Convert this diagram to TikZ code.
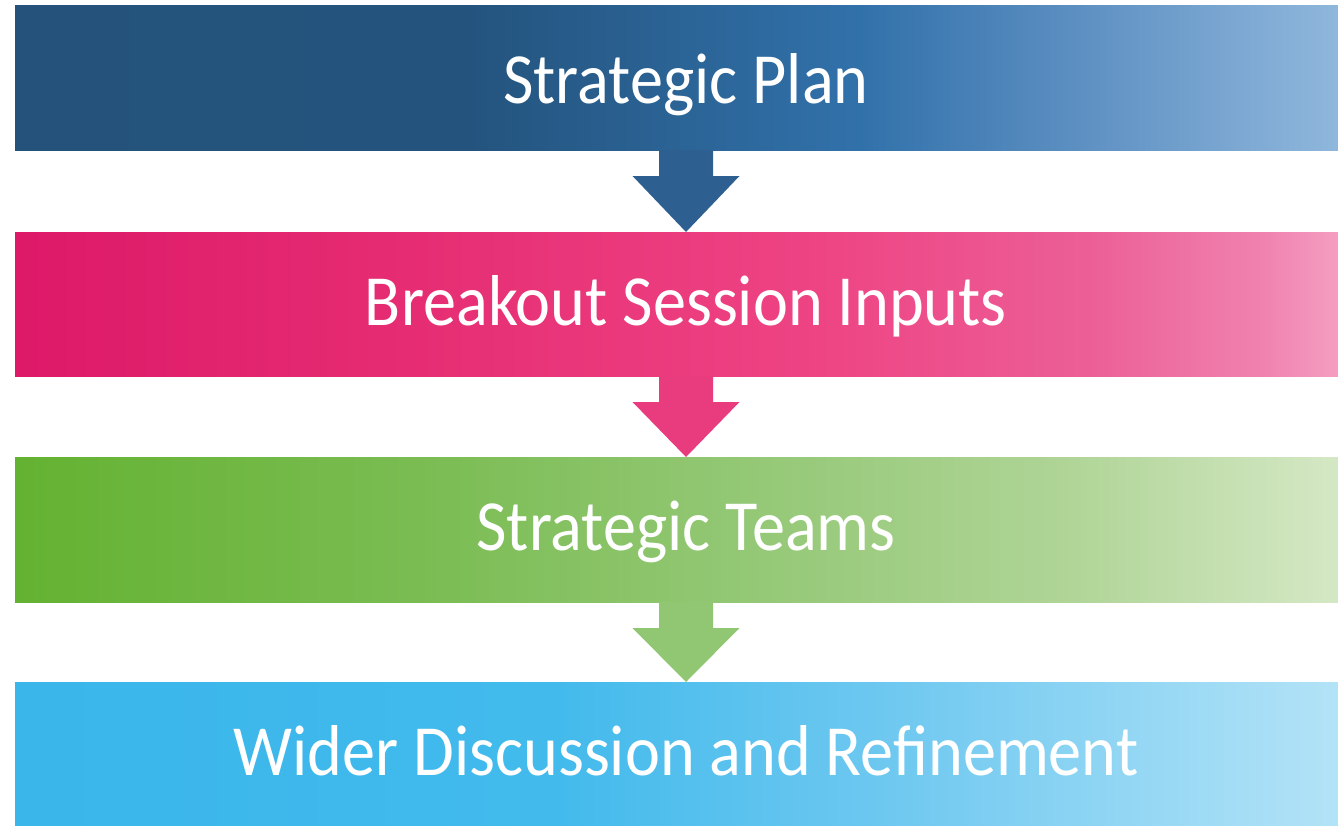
\documentclass[tikz,border=0pt]{standalone}
\usepackage{fontspec}
\setmainfont{Carlito}
\usetikzlibrary{calc}
\definecolor{aA}{RGB}{36,82,122}
\definecolor{aB}{RGB}{36,84,126}
\definecolor{aC}{RGB}{49,113,170}
\definecolor{aD}{RGB}{95,145,195}
\definecolor{aE}{RGB}{147,186,222}
\definecolor{bA}{RGB}{221,25,104}
\definecolor{bB}{RGB}{230,45,115}
\definecolor{bC}{RGB}{238,68,132}
\definecolor{bD}{RGB}{236,95,150}
\definecolor{bE}{RGB}{240,130,175}
\definecolor{bF}{RGB}{245,165,198}
\definecolor{cA}{RGB}{100,178,50}
\definecolor{cB}{RGB}{122,188,82}
\definecolor{cC}{RGB}{148,200,118}
\definecolor{cD}{RGB}{175,212,150}
\definecolor{cE}{RGB}{215,233,200}
\definecolor{dA}{RGB}{58,182,235}
\definecolor{dB}{RGB}{66,186,236}
\definecolor{dC}{RGB}{110,200,240}
\definecolor{dD}{RGB}{182,228,247}
\definecolor{arrA}{RGB}{46,95,145}
\definecolor{arrB}{RGB}{233,60,127}
\definecolor{arrC}{RGB}{145,198,115}
\pgfdeclarehorizontalshading{shA}{100bp}{color(0bp)=(aA); color(25bp)=(aA); color(42bp)=(aB); color(56.5bp)=(aC); color(65bp)=(aD); color(75bp)=(aE); color(100bp)=(aE)}
\pgfdeclarehorizontalshading{shB}{100bp}{color(0bp)=(bA); color(25bp)=(bA); color(40bp)=(bB); color(55bp)=(bC); color(65bp)=(bD); color(71.5bp)=(bE); color(75bp)=(bF); color(100bp)=(bF)}
\pgfdeclarehorizontalshading{shC}{100bp}{color(0bp)=(cA); color(25bp)=(cA); color(40bp)=(cB); color(52.5bp)=(cC); color(64bp)=(cD); color(75bp)=(cE); color(100bp)=(cE)}
\pgfdeclarehorizontalshading{shD}{100bp}{color(0bp)=(dA); color(25bp)=(dA); color(45bp)=(dB); color(57.5bp)=(dC); color(75bp)=(dD); color(100bp)=(dD)}
\newcommand{\bandtext}[1]{\scalebox{0.92}[1]{#1}}
\begin{document}
\begin{tikzpicture}[x=1pt,y=-1pt,
  band/.style={rectangle,inner sep=0pt,outer sep=0pt,minimum width=1342pt,minimum height=145pt},
  label/.style={text=white,font=\fontsize{72}{80}\selectfont,anchor=base,inner sep=0pt},
  ]
\useasboundingbox (0,0) rectangle (1338,825);
\begin{scope}
\clip (0,0) rectangle (1338,825);
\node[band,shading=shA,anchor=north west] (b1) at (15,5) {};
\node[band,shading=shB,anchor=north west,minimum height=144pt] (b2) at (15,232) {};
\node[band,shading=shC,anchor=north west] (b3) at (15,457) {};
\node[band,shading=shD,anchor=north west] (b4) at (15,682) {};
\foreach \a/\b/\c in {b1/b2/arrA,b2/b3/arrB,b3/b4/arrC}{
  \fill[\c] ($(\a.south)+(-27,0)$) -- ($(\a.south)+(27,0)$) -- ($(\a.south)+(27,26)$)
     -- ($(\a.south)+(53.5,26)$) -- (\b.north) -- ($(\a.south)+(-53.5,26)$)
     -- ($(\a.south)+(-27,26)$) -- cycle;
}
\end{scope}
\node[label] (t1) at (686,103) {\bandtext{Strategic Plan}};
\node[label] (t2) at (686,325) {\bandtext{Breakout Session Inputs}};
\node[label] (t3) at (686,550) {\bandtext{Strategic Teams}};
\node[label] (t4) at (686,775) {\bandtext{Wider Discussion and Refinement}};
\end{tikzpicture}
\end{document}
